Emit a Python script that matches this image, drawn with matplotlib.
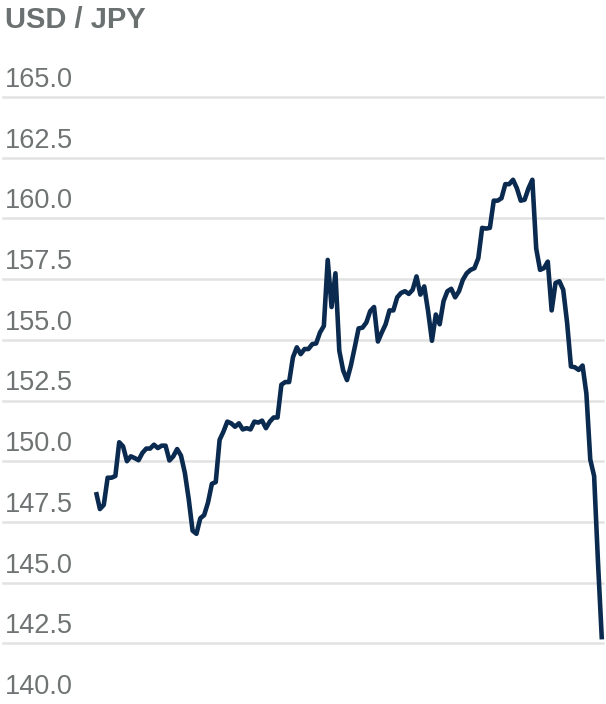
import matplotlib
matplotlib.use("Agg")
import matplotlib.pyplot as plt
import numpy as np

plt.rcParams['font.family'] = ['Liberation Sans', 'DejaVu Sans']

title = "USD / JPY"
y_ticks = [140.0, 142.5, 145.0, 147.5, 150.0, 152.5, 155.0, 157.5, 160.0, 162.5, 165.0]
usd_jpy = [
    148.73, 148.03, 148.20, 149.32, 149.32, 149.39, 150.78, 150.61, 150.00, 150.20,
    150.13, 150.04, 150.34, 150.52, 150.52, 150.68, 150.54, 150.64, 150.64, 150.03,
    150.20, 150.50, 150.23, 149.52, 148.44, 147.14, 147.01, 147.65, 147.78, 148.30,
    149.07, 149.14, 150.88, 151.22, 151.63, 151.56, 151.42, 151.56, 151.31, 151.36,
    151.31, 151.63, 151.59, 151.67, 151.36, 151.63, 151.80, 151.80, 153.15, 153.26,
    153.26, 154.28, 154.69, 154.41, 154.62, 154.62, 154.82, 154.85, 155.30, 155.57,
    158.29, 156.35, 157.74, 154.55, 153.74, 153.34, 153.94, 154.69, 155.47, 155.50,
    155.71, 156.18, 156.35, 154.93, 155.30, 155.64, 156.21, 156.21, 156.75, 156.93,
    157.00, 156.89, 157.06, 157.61, 156.86, 157.20, 156.18, 154.96, 156.04, 155.64,
    156.59, 157.00, 157.10, 156.75, 157.00, 157.47, 157.74, 157.88, 157.95, 158.36,
    159.61, 159.58, 159.61, 160.73, 160.73, 160.83, 161.41, 161.41, 161.59, 161.24,
    160.73, 160.77, 161.24, 161.59, 158.76, 157.88, 157.95, 158.22, 156.21, 157.34,
    157.41, 157.06, 155.71, 153.90, 153.87, 153.76, 153.94, 152.78, 150.07, 149.39,
    145.85, 142.66,
]

W, H = 606, 704
fig = plt.figure(figsize=(W / 100, H / 100), dpi=100)
ax = fig.add_axes([3 / W, 0, 600 / W, (H - 97) / H])

x = np.arange(len(usd_jpy))
ax.plot(x, usd_jpy, color='#0b2a50', lw=3.3, solid_joinstyle='round',
        solid_capstyle='butt', zorder=3, clip_on=False)

ax.set_ylim(140.26, 165.0)
ax.set_xlim(-24.1, len(usd_jpy) - 1 + 0.3)
ax.set_yticks(y_ticks)
ax.set_xticks([])
ax.tick_params(axis='y', length=0, labelleft=False)
for t in y_ticks:
    if t >= 140.26:
        ax.axhline(t, color='#e2e2e2', lw=1.8, zorder=1, clip_on=False)
for s in ax.spines.values():
    s.set_visible(False)

for t in y_ticks:
    ax.annotate(f"{t:.1f}", xy=(0, t), xycoords=('axes fraction', 'data'),
                xytext=(2, 10), textcoords='offset pixels',
                ha='left', va='baseline', fontsize=19.5, color='#6f7373',
                annotation_clip=False)

fig.text(5 / W, 1 - 28 / H, title, fontsize=21, fontweight='bold',
         color='#6b7070', ha='left', va='baseline')

fig.savefig('out.png', dpi=100)
